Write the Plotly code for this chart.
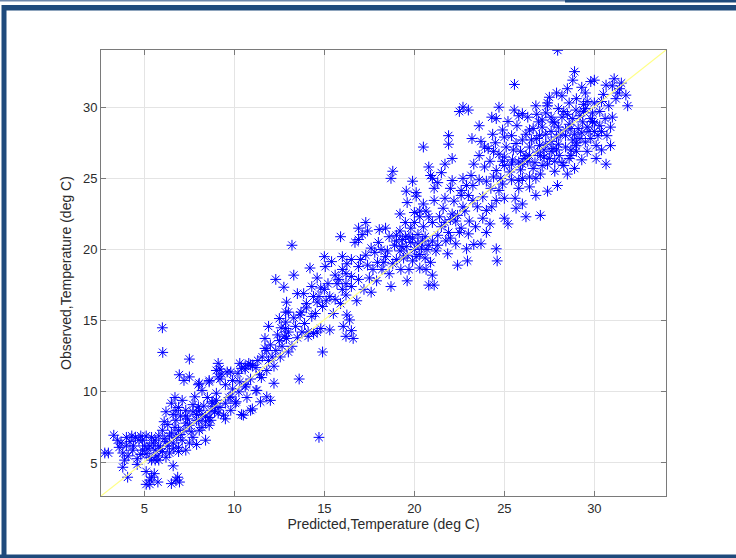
import plotly.graph_objects as go

# (predicted, observed) temperature pairs, deg C, grouped by region
low_cluster = [
    (6.02, 12.77), (7.5, 12.3), (6.94, 11.2), (7.2, 10.8), (7.5, 11.05), (9.2, 10.9), (9.2, 11.6), (9.3, 11.25),
    (9.6, 11.4), (9.9, 10.8), (10.6, 11.6), (10.9, 11.9), (11.2, 11.7), (8.05, 10.6), (8.6, 10.7), (8.2, 10.1),
    (7.8, 9.65), (9.0, 9.9), (9.7, 9.6), (10.1, 9.3), (10.65, 10.5), (11.2, 10.1), (10.5, 8.36), (11.0, 8.8),
    (6.5, 9.2), (6.75, 8.7), (6.2, 8.6), (6.9, 8.9), (7.3, 8.7), (7.7, 8.6), (8.05, 8.7), (8.2, 8.36),
    (8.6, 8.2), (8.9, 8.6), (9.2, 8.9), (9.4, 8.36), (9.5, 8.1), (8.6, 7.65), (6.9, 7.3), (6.0, 7.3),
    (6.4, 6.9), (6.6, 6.4), (7.1, 6.6), (6.9, 6.1), (7.3, 5.9), (7.5, 6.4), (7.7, 6.8), (8.4, 6.6),
    (5.5, 6.4), (5.6, 5.9), (5.3, 5.4), (4.9, 6.6), (4.5, 6.8), (4.7, 6.6), (4.35, 5.9), (4.0, 6.8),
    (3.6, 6.1), (3.8, 5.7), (3.9, 5.2), (3.8, 4.7), (3.3, 6.95), (2.8, 5.7), (4.07, 4.0), (6.6, 4.8),
    (5.1, 4.4), (5.3, 3.8), (5.3, 3.5), (5.55, 4.25), (5.75, 3.66), (6.5, 3.55), (6.85, 4.0), (6.95, 3.66),
    (5.8, 5.2), (6.2, 5.4), (6.9, 5.8), (4.9, 5.9), (5.1, 5.65), (5.4, 5.2), (7.5, 7.65), (8.05, 7.3),
    (7.9, 8.0), (7.3, 7.8), (6.75, 8.0), (6.7, 7.5), (3.0, 5.7), (4.2, 6.5), (4.4, 6.2), (4.6, 5.3),
    (5.0, 6.2), (5.2, 6.0), (5.6, 6.6), (5.8, 6.2), (6.0, 5.8), (6.3, 6.2), (6.5, 7.1), (7.0, 7.0),
    (7.2, 7.3), (7.6, 7.2), (5.7, 5.5), (6.1, 6.7), (5.4, 6.8), (3.5, 6.6), (4.1, 5.5), (4.6, 4.9),
    (7.9, 8.4), (8.3, 9.0), (8.8, 9.2), (7.1, 9.4), (6.7, 9.6), (9.8, 8.7), (8.4, 7.9), (5.4, 4.0),
    (6.75, 3.8), (5.1, 3.5), (6.0, 14.5), (14.7, 6.8),
    (7.4, 8.1), (8.0, 8.0), (8.7, 8.7), (9.0, 9.4), (9.5, 9.2), (9.9, 10.2), (10.3, 10.7), (9.5, 10.5),
    (8.5, 9.6), (7.7, 9.1), (7.0, 8.3), (6.3, 7.7), (5.8, 6.9), (5.1, 6.9), (4.3, 6.9), (3.7, 6.4),
    (4.8, 5.6), (6.6, 6.0), (6.1, 7.9), (6.8, 6.8), (7.9, 6.3), (8.2, 7.5), (11.4, 11.2), (11.9, 12.2),
    (10.3, 12.0), (5.3, 6.2), (5.9, 6.0), (6.4, 5.7), (6.2, 6.5), (5.6, 5.2), (6.6, 8.4), (7.3, 8.3),
    (8.7, 8.0), (9.1, 8.5), (4.0, 6.2), (4.8, 6.9),
]

mid_low_cluster = [
    (13.2, 20.3), (12.3, 17.9), (13.3, 18.2), (12.75, 17.35), (12.9, 16.3), (12.85, 15.6), (12.5, 15.15), (12.85, 14.9),
    (11.9, 14.6), (12.85, 14.45), (11.7, 13.75), (11.7, 13.05), (12.5, 13.6), (12.9, 13.75), (12.65, 13.2), (12.3, 12.9),
    (12.1, 12.45), (12.55, 12.45), (13.2, 13.2), (11.55, 12.45), (10.6, 11.8), (10.8, 12.0), (11.0, 11.85), (10.4, 11.65),
    (10.2, 11.3), (9.1, 12.0), (9.0, 11.5), (9.1, 11.05), (9.8, 11.4), (8.6, 10.8), (8.0, 10.5), (10.6, 10.35),
    (10.7, 9.6), (10.25, 10.0), (11.25, 10.1), (11.45, 9.3), (11.8, 9.65), (12.0, 9.4), (12.2, 10.6), (9.8, 9.65),
    (10.05, 9.2), (10.4, 8.4), (10.9, 8.7), (8.75, 9.3), (8.95, 8.95), (8.0, 8.95), (8.4, 8.25), (13.6, 10.9),
    (14.9, 12.8), (13.7, 15.6), (14.0, 15.9), (13.65, 15.4), (14.1, 14.2), (14.4, 14.1), (14.6, 14.2), (14.8, 14.45),
    (15.3, 14.35), (13.5, 16.9), (13.85, 16.9), (14.4, 16.7), (14.3, 17.4), (14.2, 18.7), (14.6, 18.0), (15.0, 19.5),
    (15.05, 18.8), (15.4, 19.15), (16.0, 19.5), (16.25, 19.0), (16.5, 19.3), (16.2, 18.3), (15.6, 18.2), (15.2, 17.6),
    (15.0, 17.2), (14.7, 16.7), (14.9, 16.0), (14.5, 15.5), (15.3, 16.7), (15.6, 16.5), (16.0, 17.2), (16.2, 16.8),
    (16.2, 17.6), (16.5, 17.4), (16.25, 15.4), (16.4, 15.05), (16.05, 14.6), (16.5, 14.3), (16.2, 13.9), (16.6, 13.75),
    (15.5, 15.5), (14.1, 13.9), (13.75, 14.2), (11.3, 12.2), (12.0, 13.3), (12.4, 14.0), (13.0, 14.2), (13.4, 14.6),
    (12.2, 11.8), (11.8, 11.5), (13.0, 12.8), (11.5, 11.0), (10.9, 10.9), (14.8, 17.3), (15.8, 17.9), (15.9, 16.2),
    (13.9, 14.8), (14.3, 15.3), (14.6, 16.3), (15.1, 16.4), (14.0, 16.2), (13.3, 15.2), (13.0, 15.6), (12.6, 14.5),
    (11.8, 12.9), (12.8, 13.9), (13.5, 13.8), (17.2, 17.2), (17.6, 17.0), (16.8, 16.4), (17.0, 19.3),
]

mid_cluster = [
    (18.8, 25.5), (18.7, 25.0), (19.55, 24.1), (20.1, 24.0), (20.1, 23.75), (19.6, 23.3), (19.2, 22.5), (20.0, 22.6),
    (20.3, 22.7), (20.9, 25.2), (22.0, 24.3), (22.9, 24.5), (22.5, 21.2), (21.75, 20.6), (23.3, 20.35), (18.4, 21.5),
    (18.05, 21.4), (18.6, 20.9), (19.35, 20.7), (19.7, 20.9), (20.2, 21.05), (20.45, 20.6), (19.55, 20.2), (20.0, 20.0),
    (20.3, 19.65), (19.25, 18.6), (19.7, 18.6), (20.3, 18.7), (20.65, 18.6), (20.8, 17.5), (21.1, 17.5), (19.6, 17.8),
    (18.7, 17.4), (19.0, 19.3), (19.2, 19.9), (17.3, 19.6), (16.9, 20.7), (17.1, 21.05), (17.4, 21.3), (16.7, 20.5),
    (15.9, 20.9), (17.95, 19.1), (17.7, 18.6), (18.2, 18.6), (18.15, 20.0), (18.4, 19.5), (16.9, 18.8), (16.0, 18.6),
    (16.5, 18.1), (16.9, 17.9), (15.7, 17.6), (17.3, 21.9), (16.9, 21.5), (19.8, 21.5), (20.5, 21.6), (21.0, 21.9),
    (21.4, 22.3), (19.5, 21.9), (20.8, 20.3), (21.3, 21.0), (19.9, 19.2), (20.6, 19.4), (18.9, 20.3), (18.0, 20.5),
    (17.6, 20.1), (21.6, 22.9), (22.0, 22.1), (22.6, 23.8), (20.5, 23.2), (19.9, 24.8), (21.5, 25.4),
    (18.5, 19.9), (19.0, 20.6), (19.5, 20.9), (19.8, 20.5), (20.2, 20.4), (20.6, 20.9), (21.0, 20.6), (21.2, 19.9),
    (20.4, 20.1), (19.6, 19.6), (18.8, 19.0), (18.3, 19.1), (17.8, 19.8), (17.4, 18.9), (19.2, 21.3), (20.0, 21.9),
    (20.8, 22.3), (21.5, 21.6), (22.0, 20.8), (22.4, 22.4), (23.0, 21.1), (23.8, 22.2), (24.3, 23.0), (23.0, 23.8),
    (23.6, 24.9), (24.4, 25.1), (22.2, 23.4), (21.9, 21.2), (21.3, 20.3), (20.9, 19.1), (19.4, 19.4), (18.6, 18.3),
    (17.5, 18.0), (17.9, 17.8), (21.0, 18.2), (24.2, 21.8), (25.6, 23.6), (24.9, 24.6),
    (19.3, 20.2), (19.9, 20.8), (20.1, 19.5), (20.7, 20.0), (19.0, 21.0), (21.7, 21.9), (22.3, 22.0), (22.8, 22.7),
]

upper_cluster = [
    (22.7, 30.0), (22.5, 29.7), (23.0, 29.8), (24.7, 30.0), (24.3, 29.3), (24.55, 29.2), (25.55, 29.8), (25.8, 29.4),
    (26.75, 30.1), (27.4, 30.1), (21.9, 28.0), (21.9, 27.4), (23.2, 27.8), (23.7, 27.6), (24.1, 27.1), (20.5, 27.2),
    (21.7, 26.0), (22.1, 26.4), (20.8, 25.8), (21.0, 25.0), (21.3, 24.7), (21.1, 24.3), (22.1, 24.85), (22.7, 25.0),
    (23.15, 25.2), (23.25, 24.5), (22.6, 24.15), (21.7, 23.6), (21.1, 23.45), (20.65, 22.7), (20.3, 22.3), (22.1, 22.5),
    (22.7, 23.0), (23.25, 23.45), (23.8, 23.7), (23.5, 23.0), (24.0, 22.75), (23.05, 22.0), (23.4, 21.6), (24.0, 21.2),
    (22.6, 21.5), (22.3, 20.4), (22.9, 20.05), (23.7, 20.4), (21.85, 19.7), (22.95, 19.2), (22.4, 18.9), (24.55, 20.05),
    (24.6, 19.2), (25.0, 22.2), (25.2, 21.8), (25.65, 22.9), (26.2, 22.3), (27.0, 22.4), (26.75, 23.8), (27.95, 24.5),
    (28.9, 25.7), (24.55, 23.45), (24.25, 24.3), (24.7, 24.15), (24.55, 25.55), (25.0, 25.9), (25.3, 25.45), (25.45, 26.3),
    (26.0, 26.0), (24.7, 26.7), (25.1, 27.2), (25.65, 27.45), (24.35, 28.1), (24.9, 28.4), (26.2, 28.1), (26.6, 28.5),
    (27.1, 28.6), (26.4, 27.2), (26.85, 26.85), (27.3, 27.4), (27.5, 26.4), (28.05, 26.6), (27.9, 27.9), (28.4, 28.4),
    (28.8, 27.7), (28.4, 27.2), (25.8, 24.85), (26.4, 25.1), (25.8, 24.3), (26.4, 24.4), (23.9, 25.8), (24.2, 26.2),
    (24.8, 25.0), (25.4, 24.9), (25.9, 25.6), (26.2, 26.6), (26.7, 26.1), (27.0, 25.3), (26.6, 25.7), (27.2, 27.0),
    (27.6, 27.6), (26.0, 27.7), (25.4, 28.0), (23.6, 26.6), (23.3, 26.0), (24.0, 24.8), (25.0, 23.6), (26.0, 23.2),
    (27.4, 24.1), (27.8, 25.5), (28.3, 25.9), (28.6, 26.4), (27.1, 29.1), (26.3, 29.3), (25.2, 29.0), (23.6, 28.7),
    (24.5, 27.5), (25.0, 26.5), (25.5, 27.0), (25.9, 26.9), (26.3, 26.2), (26.8, 27.8), (27.2, 26.5), (27.6, 26.9),
    (28.0, 27.4), (28.2, 26.1), (28.7, 27.0), (29.0, 26.9), (29.3, 28.2), (29.6, 28.6), (30.0, 28.3), (30.4, 28.3),
    (30.7, 28.0), (29.9, 29.6), (29.4, 30.2), (28.8, 29.2), (28.0, 29.9), (27.6, 29.3), (26.8, 29.5), (25.7, 28.7),
    (25.0, 27.9), (24.4, 26.9), (23.9, 27.2), (26.4, 26.6), (27.0, 26.6), (27.8, 26.2), (28.5, 25.3), (29.3, 26.3),
    (30.1, 26.4), (27.3, 28.1), (28.1, 28.1), (28.7, 28.5), (29.0, 27.5), (27.4, 26.0), (26.1, 26.4), (25.4, 26.0),
    (24.9, 26.2), (26.5, 27.7), (27.9, 27.0), (28.9, 28.1), (29.9, 29.0), (29.4, 29.7), (28.5, 29.5), (27.8, 28.9),
]

top_cluster = [
    (27.96, 34.0), (28.9, 32.5), (28.8, 31.9), (29.3, 31.4), (29.8, 31.8), (30.0, 31.9), (31.1, 32.0), (31.4, 31.3),
    (31.75, 30.85), (30.65, 31.55), (31.85, 30.1), (27.5, 30.7), (27.4, 30.3), (26.0, 29.55), (28.6, 30.3),
    (28.98, 29.8), (29.5, 29.9), (30.3, 29.7), (30.8, 30.1), (31.2, 30.6), (28.2, 29.3), (29.35, 28.97), (29.8, 29.2),
    (29.1, 28.5), (29.7, 28.3), (26.9, 28.97), (27.7, 28.97), (26.4, 28.4), (26.95, 28.0), (27.6, 28.3), (28.4, 28.0),
    (29.2, 27.8), (29.8, 27.8), (30.3, 28.7), (30.2, 28.0), (26.95, 27.3), (27.7, 27.1),
    (28.98, 27.3), (29.5, 27.55), (30.1, 27.3), (30.9, 27.3), (30.65, 26.0), (27.1, 25.9), (28.7, 26.6),
    (26.75, 25.0), (25.8, 26.15), (26.0, 25.0), (25.56, 31.6), (28.2, 30.8), (29.0, 30.6),
    (29.6, 30.4), (30.5, 30.9), (31.3, 31.0), (29.2, 29.4), (28.6, 28.8), (28.0, 28.6), (30.6, 29.2), (30.0, 28.9),
    (29.6, 26.9), (30.4, 27.0), (28.3, 29.7), (27.3, 29.6), (30.9, 28.6), (31.0, 29.3),
    (30.0, 30.3), (30.4, 30.4), (31.0, 31.5), (31.5, 31.7), (29.5, 31.0), (28.5, 31.3), (27.9, 31.0),
]

x_ticks = [5, 10, 15, 20, 25, 30]
y_ticks = [5, 10, 15, 20, 25, 30]
x_title = "Predicted,Temperature (deg C)"
y_title = "Observed,Temperature (deg C)"

pairs = low_cluster + mid_low_cluster + mid_cluster + upper_cluster + top_cluster
predicted = [p for p, o in pairs]
observed = [o for p, o in pairs]

x_range = [2.59, 33.98]
y_range = [2.68, 34.02]

FONT = "Liberation Sans, Arial, Helvetica, sans-serif"

fig = go.Figure()
fig.add_trace(go.Scatter(
    x=predicted, y=observed, mode="markers",
    marker=dict(symbol="asterisk-open", size=9, color="#0000ff",
                line=dict(color="rgba(0,0,255,0.85)", width=1.0)),
    showlegend=False, hoverinfo="x+y",
))
fig.add_trace(go.Scatter(
    x=[x_range[0], x_range[1]], y=[y_range[0], y_range[1]], mode="lines",
    line=dict(color="rgba(255,255,120,0.9)", width=1.2),
    showlegend=False, hoverinfo="skip",
))

W, H = 736, 558
L, R, T, B = 101, 70, 50, 62
PW, PH = W - L - R, H - T - B


def px_x(px):
    return (px - L) / PW


def px_y(py):
    return (H - B - py) / PH


FRAME = "#1f4a7c"
shapes = []
for (x0, y0, x1, y1, col) in [
    (0, 0, W, 1.5, "#6d86ab"),
    (565, 0, W, 2.5, FRAME),
    (2, 5, W, 10.5, FRAME),
    (1.5, 5, 6.5, H, FRAME),
    (0, 554.5, W, H, FRAME),
]:
    shapes.append(dict(type="rect", xref="paper", yref="paper",
                       x0=px_x(x0), x1=px_x(x1), y0=px_y(y1), y1=px_y(y0),
                       line=dict(width=0), fillcolor=col, layer="above"))

axis_common = dict(
    showline=True, linecolor="#7a7a7a", linewidth=1, mirror="ticks",
    ticks="inside", ticklen=5, tickcolor="#7a7a7a", tickwidth=1,
    showgrid=True, gridcolor="#e4e4e4", gridwidth=1, zeroline=False,
    tickfont=dict(family=FONT, size=13, color="#2b2b2b"),
)

fig.update_layout(
    width=W, height=H,
    margin=dict(l=L, r=R, t=T, b=B, pad=0),
    paper_bgcolor="white", plot_bgcolor="white",
    shapes=shapes,
    xaxis=dict(range=x_range, tickvals=x_ticks, **axis_common,
               title=dict(text=x_title, font=dict(family=FONT, size=14, color="#2b2b2b"), standoff=4)),
    yaxis=dict(range=y_range, tickvals=y_ticks, **axis_common,
               title=dict(text=y_title, font=dict(family=FONT, size=14, color="#2b2b2b"), standoff=8)),
)

fig.write_html("out.html")
